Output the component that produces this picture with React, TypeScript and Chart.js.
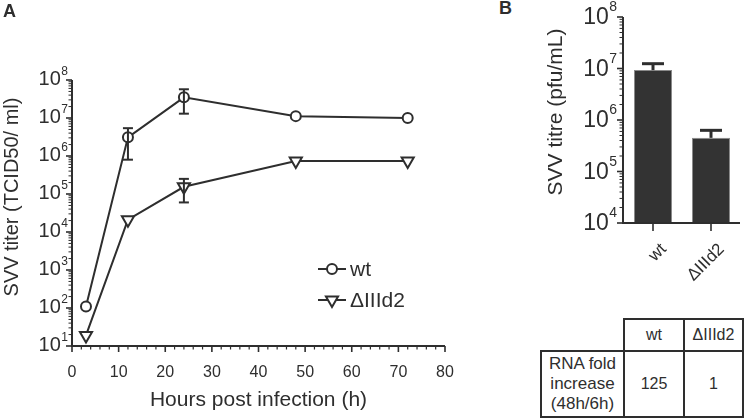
import React, { useEffect, useRef } from "react";
import { Chart, registerables } from "chart.js";
Chart.register(...registerables);

const FONT = "'Liberation Sans', Arial, Helvetica, sans-serif";
const INK = "#2e2e2e";

// ---------- Panel A data ----------
const hours = [3, 12, 24, 48, 72];
const wtTiter = [110, 3.1e6, 3.5e7, 1.12e7, 1.0e7];
const wtSD = [0, 2.3e6, 2.2e7, 0, 0];
const mutTiter = [19, 2.1e4, 1.55e5, 7.4e5, 7.4e5];
const mutSD = [0, 0, 9.5e4, 0, 0];
const seriesNames = ["wt", "ΔIIId2"];
const xTicksA = [0, 10, 20, 30, 40, 50, 60, 70, 80];
const yExponentsA = [1, 2, 3, 4, 5, 6, 7, 8];
const xTitleA = "Hours post infection (h)";
const yTitleA = "SVV titer (TCID50/ ml)";

// ---------- Panel B data ----------
const strains = ["wt", "ΔIIId2"];
const pfuTitre = [9.3e6, 4.5e5];
const pfuSD = [3.1e6, 1.8e5];
const yExponentsB = [4, 5, 6, 7, 8];
const yTitleB = "SVV titre (pfu/mL)";

// ---------- Table ----------
const tableCols = ["wt", "ΔIIId2"];
const tableRowLabel = ["RNA fold", "increase", "(48h/6h)"];
const tableValues = ["125", "1"];

function supLabel(ctx: any, exp: string, rightX: number, y: number, baseSize: number, supSize: number, baseDy: number, supDy: number) {
  ctx.textAlign = "left";
  ctx.textBaseline = "alphabetic";
  ctx.font = `${supSize}px ${FONT}`;
  const sw = ctx.measureText(exp).width;
  ctx.fillText(exp, rightX - sw, y + supDy);
  ctx.font = `${baseSize}px ${FONT}`;
  const bw = ctx.measureText("10").width;
  ctx.fillText("10", rightX - sw - bw - 0.5, y + baseDy);
}

function line(ctx: any, x1: number, y1: number, x2: number, y2: number, w: number) {
  ctx.lineWidth = w;
  ctx.beginPath();
  ctx.moveTo(x1, y1);
  ctx.lineTo(x2, y2);
  ctx.stroke();
}

function drawMarker(ctx: any, style: string, x: number, y: number) {
  ctx.save();
  ctx.lineWidth = 2;
  ctx.strokeStyle = INK;
  ctx.fillStyle = "#fff";
  ctx.beginPath();
  if (style === "circle") {
    ctx.arc(x, y, 5, 0, Math.PI * 2);
  } else {
    const r = 7;
    ctx.moveTo(x, y + r);
    ctx.lineTo(x - r * 0.866, y - r * 0.5);
    ctx.lineTo(x + r * 0.866, y - r * 0.5);
    ctx.closePath();
  }
  ctx.fill();
  ctx.stroke();
  ctx.restore();
}

const panelAPlugin = {
  id: "panelA",
  beforeDatasetsDraw(chart: any) {
    const { ctx, chartArea: a, scales } = chart;
    const xs = scales.x, ys = scales.y;
    ctx.save();
    ctx.strokeStyle = INK;
    ctx.fillStyle = INK;
    // axes
    line(ctx, a.left, a.top, a.left, a.bottom + 1, 2);
    line(ctx, a.left - 1, a.bottom, a.right, a.bottom, 2);
    // y ticks
    for (let i = 0; i < yExponentsA.length; i++) {
      const e = yExponentsA[i];
      const y = ys.getPixelForValue(Math.pow(10, e));
      line(ctx, a.left - 6, y, a.left, y, 1.6);
      if (i < yExponentsA.length - 1) {
        for (let k = 2; k <= 9; k++) {
          const ym = ys.getPixelForValue(k * Math.pow(10, e));
          line(ctx, a.left - 3.5, ym, a.left, ym, 1);
        }
      }
      supLabel(ctx, String(e), 68, y, 20, 12, 5, -5);
    }
    // x ticks
    ctx.font = `16px ${FONT}`;
    ctx.textAlign = "center";
    ctx.textBaseline = "alphabetic";
    for (let i = 0; i < xTicksA.length; i++) {
      const v = xTicksA[i];
      const x = xs.getPixelForValue(v);
      line(ctx, x, a.bottom, x, a.bottom + 6, 1.6);
      ctx.fillText(String(v), x, 377);
      if (i < xTicksA.length - 1) {
        const step = (xTicksA[i + 1] - v) / 5;
        for (let k = 1; k < 5; k++) {
          const xm = xs.getPixelForValue(v + k * step);
          line(ctx, xm, a.bottom, xm, a.bottom + 3.5, 1.2);
        }
      }
    }
    // titles
    ctx.font = `21px ${FONT}`;
    ctx.textAlign = "center";
    ctx.fillText(xTitleA, (a.left + a.right) / 2, 406);
    ctx.save();
    ctx.translate(12, 197);
    ctx.rotate(-Math.PI / 2);
    ctx.font = `20px ${FONT}`;
    ctx.textBaseline = "middle";
    ctx.fillText(yTitleA, 0, 0);
    ctx.restore();
    ctx.restore();
  },
  afterDatasetsDraw(chart: any) {
    const { ctx, scales } = chart;
    const ys = scales.y;
    const sds = [wtSD, mutSD];
    const vals = [wtTiter, mutTiter];
    ctx.save();
    ctx.strokeStyle = INK;
    sds.forEach((sd, di) => {
      const meta = chart.getDatasetMeta(di);
      sd.forEach((s, j) => {
        if (!s) return;
        const x = meta.data[j].x;
        const yt = ys.getPixelForValue(vals[di][j] + s);
        const yb = ys.getPixelForValue(Math.max(vals[di][j] - s, 1e-9));
        line(ctx, x, yt, x, yb, 2);
        line(ctx, x - 5, yt, x + 5, yt, 2);
        line(ctx, x - 5, yb, x + 5, yb, 2);
      });
    });
    // legend
    const styles = ["circle", "triangle"];
    const ly = [269, 300];
    ctx.fillStyle = INK;
    seriesNames.forEach((name, i) => {
      line(ctx, 318, ly[i], 346, ly[i], 2);
      drawMarker(ctx, styles[i], 332, ly[i]);
      ctx.fillStyle = INK;
      ctx.font = `21px ${FONT}`;
      ctx.textAlign = "left";
      ctx.textBaseline = "middle";
      ctx.fillText(name, 350, ly[i] + 1);
    });
    ctx.restore();
  },
};

const panelBPlugin = {
  id: "panelB",
  beforeDatasetsDraw(chart: any) {
    const { ctx, chartArea: a, scales } = chart;
    const ys = scales.y, xs = scales.x;
    ctx.save();
    ctx.strokeStyle = INK;
    ctx.fillStyle = INK;
    const ax = a.left - 1;
    for (let i = 0; i < yExponentsB.length; i++) {
      const e = yExponentsB[i];
      const y = ys.getPixelForValue(Math.pow(10, e));
      line(ctx, ax - 6, y, ax, y, 1.6);
      if (i < yExponentsB.length - 1) {
        for (let k = 2; k <= 9; k++) {
          const ym = ys.getPixelForValue(k * Math.pow(10, e));
          line(ctx, ax - 3.5, ym, ax, ym, 1);
        }
      }
      supLabel(ctx, String(e), 617 - 540, y, 23, 14, 7, -6);
    }
    // x ticks + rotated labels
    strains.forEach((s, i) => {
      const x = xs.getPixelForValue(i);
      line(ctx, x, a.bottom, x, a.bottom + 8, 1.6);
      ctx.save();
      ctx.translate(x + 14, a.bottom + 27);
      ctx.rotate(-Math.PI / 4);
      ctx.font = `17px ${FONT}`;
      ctx.textAlign = "right";
      ctx.textBaseline = "alphabetic";
      ctx.fillText(s, 0, 0);
      ctx.restore();
    });
    // title
    ctx.save();
    ctx.translate(556 - 540, 112);
    ctx.rotate(-Math.PI / 2);
    ctx.font = `21px ${FONT}`;
    ctx.textAlign = "center";
    ctx.textBaseline = "middle";
    ctx.fillText(yTitleB, 0, 0);
    ctx.restore();
    ctx.restore();
  },
  afterDatasetsDraw(chart: any) {
    const { ctx, chartArea: a, scales } = chart;
    const ys = scales.y, xs = scales.x;
    ctx.save();
    ctx.strokeStyle = INK;
    pfuTitre.forEach((v, i) => {
      const x = xs.getPixelForValue(i);
      const y0 = ys.getPixelForValue(v);
      const y1 = ys.getPixelForValue(v + pfuSD[i]);
      line(ctx, x, y0, x, y1, 3);
      line(ctx, x - 11, y1, x + 11, y1, 3);
    });
    // axes on top
    line(ctx, a.left - 1, a.top, a.left - 1, a.bottom + 1, 2);
    line(ctx, a.left - 2, a.bottom, a.right, a.bottom, 2);
    ctx.restore();
  },
};

function PanelA() {
  const ref = useRef<HTMLCanvasElement | null>(null);
  useEffect(() => {
    if (!ref.current) return;
    const chart = new Chart(ref.current, {
      type: "line",
      data: {
        datasets: [
          {
            label: seriesNames[0],
            data: hours.map((h, i) => ({ x: h, y: wtTiter[i] })),
            borderColor: INK,
            borderWidth: 2,
            pointStyle: "circle",
            pointRadius: 5,
            pointBorderWidth: 2,
            pointBackgroundColor: "#fff",
            pointBorderColor: INK,
            clip: false,
          } as any,
          {
            label: seriesNames[1],
            data: hours.map((h, i) => ({ x: h, y: mutTiter[i] })),
            borderColor: INK,
            borderWidth: 2,
            pointStyle: "triangle",
            pointRotation: 180,
            pointRadius: 7,
            pointBorderWidth: 2,
            pointBackgroundColor: "#fff",
            pointBorderColor: INK,
            clip: false,
          } as any,
        ],
      },
      options: {
        animation: false,
        responsive: false,
        layout: { padding: { left: 72, top: 80, right: 25, bottom: 74 } },
        plugins: { legend: { display: false }, tooltip: { enabled: false } },
        scales: {
          x: { type: "linear", min: 0, max: 80, display: false },
          y: { type: "logarithmic", min: 10, max: 1e8, display: false },
        },
      },
      plugins: [panelAPlugin],
    });
    return () => chart.destroy();
  }, []);
  return <canvas ref={ref} width={470} height={420} style={{ position: "absolute", left: 0, top: 0, width: 470, height: 420 }} />;
}

function PanelB() {
  const ref = useRef<HTMLCanvasElement | null>(null);
  useEffect(() => {
    if (!ref.current) return;
    const chart = new Chart(ref.current, {
      type: "bar",
      data: {
        labels: strains,
        datasets: [
          {
            data: pfuTitre,
            backgroundColor: "#333333",
            borderColor: "#8a8a8a",
            borderWidth: 1,
            barPercentage: 0.655,
            categoryPercentage: 1,
          },
        ],
      },
      options: {
        animation: false,
        responsive: false,
        layout: { padding: { left: 84, top: 17, right: 5, bottom: 77 } },
        plugins: { legend: { display: false }, tooltip: { enabled: false } },
        scales: {
          x: { type: "category", display: false },
          y: { type: "logarithmic", min: 1e4, max: 1e8, display: false },
        },
      },
      plugins: [panelBPlugin],
    });
    return () => chart.destroy();
  }, []);
  return <canvas ref={ref} width={205} height={300} style={{ position: "absolute", left: 540, top: 0, width: 205, height: 300 }} />;
}

function HLine({ x1, x2, y }: { x1: number; x2: number; y: number }) {
  return <div style={{ position: "absolute", left: x1 - 1, top: y - 1, width: x2 - x1 + 2, height: 2, background: INK }} />;
}
function VLine({ x, y1, y2 }: { x: number; y1: number; y2: number }) {
  return <div style={{ position: "absolute", left: x - 1, top: y1 - 1, width: 2, height: y2 - y1 + 2, background: INK }} />;
}

function Cell({ x1, x2, y1, y2, children }: any) {
  return (
    <div
      style={{
        position: "absolute",
        left: x1,
        top: y1,
        width: x2 - x1,
        height: y2 - y1,
        display: "flex",
        alignItems: "center",
        justifyContent: "center",
        textAlign: "center",
        fontFamily: FONT,
        fontSize: 16,
        lineHeight: "20px",
        color: INK,
      }}
    >
      {children}
    </div>
  );
}

function RNATable() {
  const xs = [541, 624, 684, 743];
  const ys = [319, 351, 417];
  return (
    <>
      <HLine x1={xs[1]} x2={xs[3]} y={ys[0]} />
      <HLine x1={xs[0]} x2={xs[3]} y={ys[1]} />
      <HLine x1={xs[0]} x2={xs[3]} y={ys[2]} />
      <VLine x={xs[0]} y1={ys[1]} y2={ys[2]} />
      <VLine x={xs[1]} y1={ys[0]} y2={ys[2]} />
      <VLine x={xs[2]} y1={ys[0]} y2={ys[2]} />
      <VLine x={xs[3]} y1={ys[0]} y2={ys[2]} />
      {tableCols.map((c, i) => (
        <Cell key={c} x1={xs[i + 1]} x2={xs[i + 2]} y1={ys[0]} y2={ys[1]}>{c}</Cell>
      ))}
      <Cell x1={xs[0]} x2={xs[1]} y1={ys[1]} y2={ys[2]}>
        <div style={{ fontSize: 17 }}>
          {tableRowLabel.map((t) => (
            <div key={t}>{t}</div>
          ))}
        </div>
      </Cell>
      {tableValues.map((v, i) => (
        <Cell key={i} x1={xs[i + 1]} x2={xs[i + 2]} y1={ys[1]} y2={ys[2]}>{v}</Cell>
      ))}
    </>
  );
}

export default function App() {
  return (
    <div style={{ position: "absolute", left: 0, top: 0, width: 745, height: 420, background: "#fff", overflow: "hidden" }}>
      <PanelA />
      <PanelB />
      <RNATable />
      <div style={{ position: "absolute", left: 3, top: 1, fontFamily: FONT, fontWeight: "bold", fontSize: 18, color: INK }}>A</div>
      <div style={{ position: "absolute", left: 499, top: -2, fontFamily: FONT, fontWeight: "bold", fontSize: 18, color: INK }}>B</div>
    </div>
  );
}
